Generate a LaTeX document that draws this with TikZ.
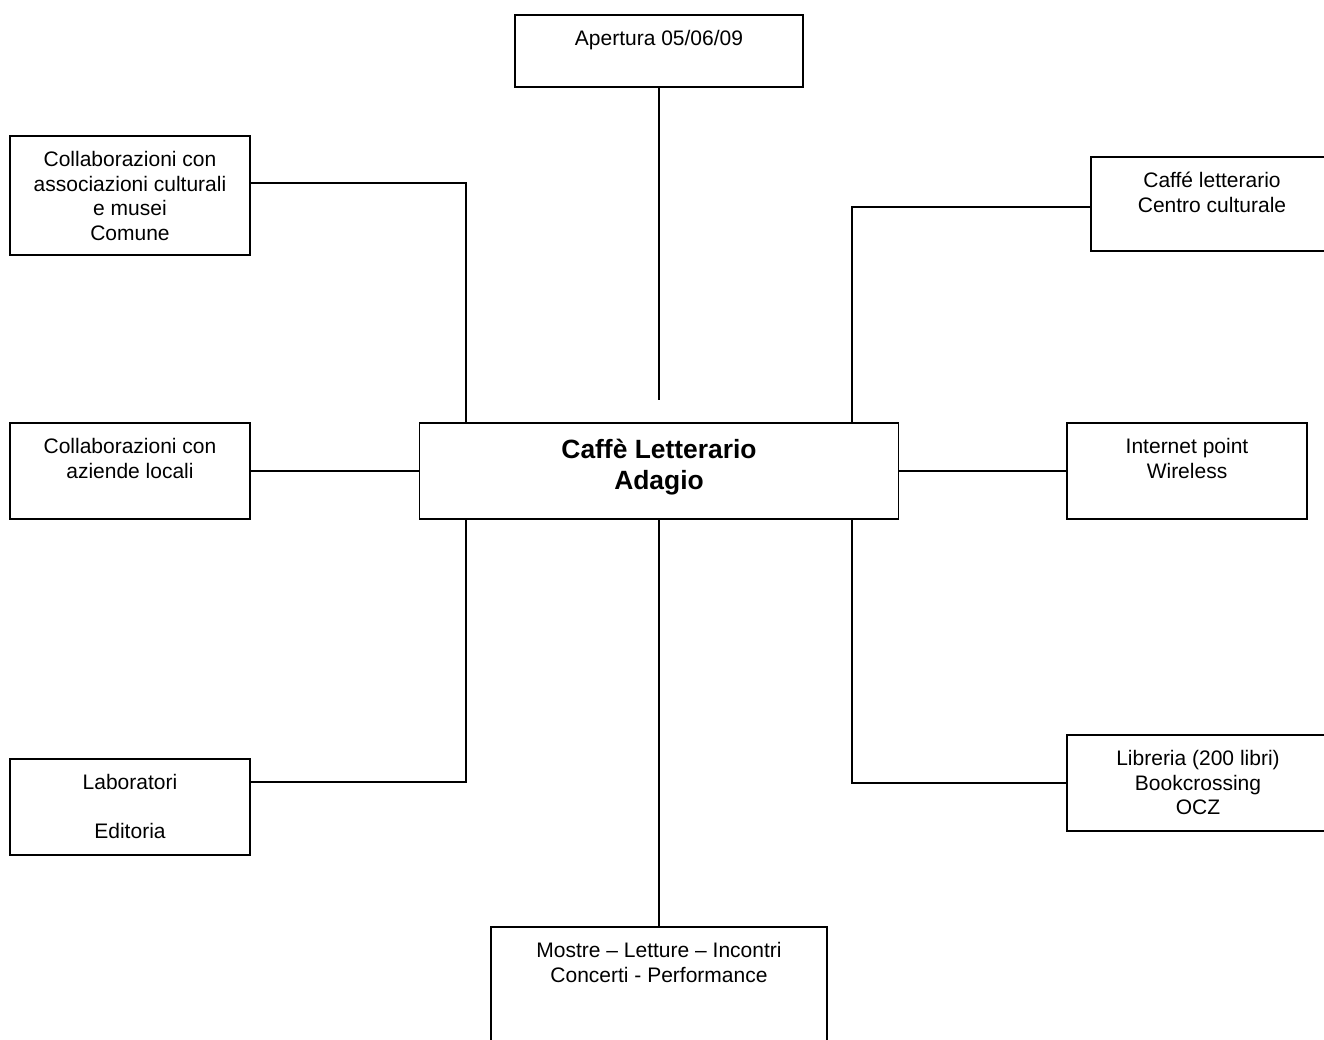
\documentclass[tikz,border=0pt]{standalone}
\usepackage{fontspec}
\setmainfont{Liberation Sans}
\usetikzlibrary{calc}
\begin{document}
\begin{tikzpicture}[x=1pt,y=-1pt,
  box/.style={draw=black,line width=1.6pt,rectangle,inner sep=0pt},
  txt/.style={anchor=north,align=center,inner sep=0pt,font=\fontsize{21}{24.5}\selectfont},
  btxt/.style={anchor=north,align=center,inner sep=0pt,font=\fontsize{26.4}{31}\selectfont\bfseries},
  conn/.style={draw=black,line width=1.6pt}]
\clip (0,0) rectangle (1324,1040);
\fill[white] (0,0) rectangle (1324,1040);
% boxes
\node[box,minimum width=288pt,minimum height=72pt] (top) at (659,51) {};
\node[box,minimum width=240pt,minimum height=119pt] (l1) at (130,195.5) {};
\node[box,minimum width=242pt,minimum height=94pt] (r1) at (1212,204) {};
\node[box,minimum width=479pt,minimum height=96pt] (c) at (659,471) {};
\node[box,minimum width=240pt,minimum height=96pt] (l2) at (130,471) {};
\node[box,minimum width=240pt,minimum height=96pt] (r2) at (1187,471) {};
\node[box,minimum width=240pt,minimum height=96pt] (l3) at (130,807) {};
\node[box,minimum width=262pt,minimum height=96pt] (r3) at (1198,783) {};
\node[box,minimum width=336pt,minimum height=130pt] (bot) at (659,992) {};
% texts
\node[txt] (ttop) at ($(top.north)+(0,14)$) {\strut Apertura 05/06/09};
\node[txt] (tl1) at ($(l1.north)+(0,14)$) {\strut Collaborazioni con\\associazioni culturali\\e musei\\Comune};
\node[txt] (tr1) at ($(r1.north)+(0,14)$) {\strut Caffé letterario\\Centro culturale};
\node[btxt] (tc) at ($(c.north)+(0,14)$) {\strut Caffè Letterario\\Adagio};
\node[txt] (tl2) at ($(l2.north)+(0,14)$) {\strut Collaborazioni con\\aziende locali};
\node[txt] (tr2) at ($(r2.north)+(0,14)$) {\strut Internet point\\Wireless};
\node[txt] (tl3) at ($(l3.north)+(0,14)$) {\strut Laboratori\\\mbox{}\\Editoria};
\node[txt] (tr3) at ($(r3.north)+(0,14)$) {\strut Libreria (200 libri)\\Bookcrossing\\OCZ};
\node[txt] (tbot) at ($(bot.north)+(0,14)$) {\strut Mostre – Letture – Incontri\\Concerti - Performance};
% connectors
\coordinate (topend) at (659,400);
\draw[conn] (top.south) -- (topend);
\draw[conn] ([yshift=12.5pt]l1.east) -| ([xshift=47.5pt]c.north west);
\draw[conn] ([yshift=-3pt]r1.west) -| ([xshift=-47.5pt]c.north east);
\draw[conn] (l2.east) -- (c.west);
\draw[conn] (c.east) -- (r2.west);
\draw[conn] ([yshift=25pt]l3.east) -| ([xshift=47.5pt]c.south west);
\draw[conn] (r3.west) -| ([xshift=-47.5pt]c.south east);
\draw[conn] (c.south) -- (bot.north);
\end{tikzpicture}
\end{document}
